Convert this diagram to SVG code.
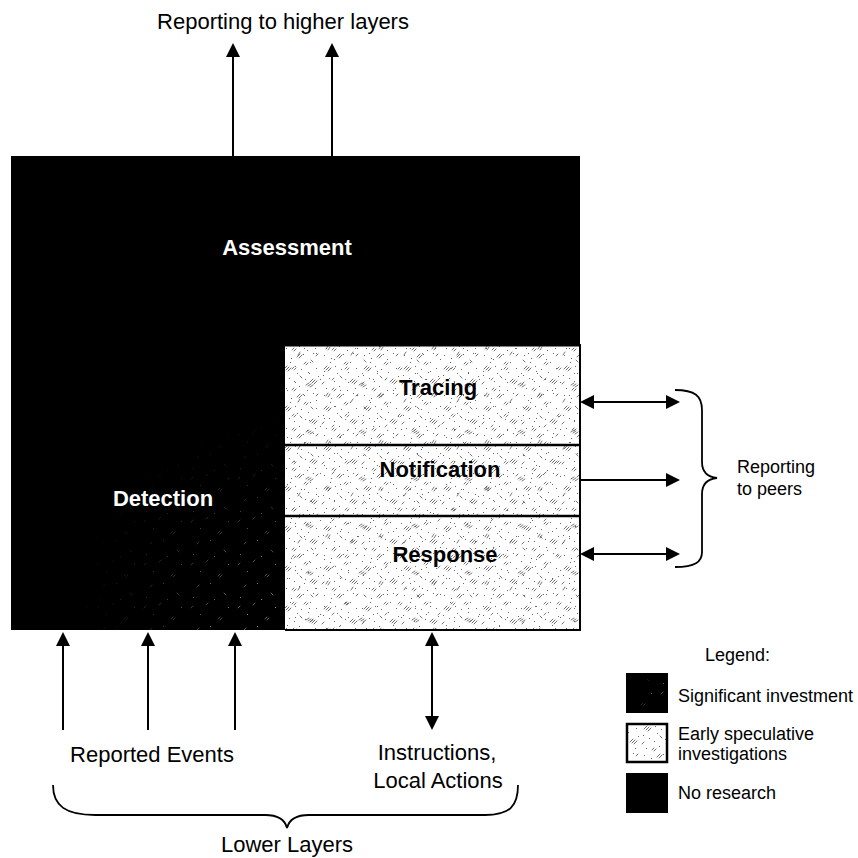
<svg xmlns="http://www.w3.org/2000/svg" width="858" height="858" viewBox="0 0 858 858">
  <style>
    text { font-family: "Liberation Sans", Arial, Helvetica, sans-serif; }
    .lbl { font-size: 22px; fill: #000; }
    .small { font-size: 18px; fill: #000; }
    .bold { font-size: 22px; font-weight: bold; }
    .white { fill: #fff; }
    .conn { stroke: #000; stroke-width: 2; fill: none; }
    .brace { stroke: #000; stroke-width: 1.8; fill: none; }
    .light { fill: url(#stippleA); }
    .light2 { fill: url(#stippleB); }
  </style>
  <defs>
    <!-- arrowhead shared by every connector -->
    <marker id="arrow" viewBox="0 0 14 14" markerWidth="14" markerHeight="14" refX="12" refY="7" orient="auto-start-reverse" markerUnits="userSpaceOnUse">
      <path d="M0,0 L14,7 L0,14 z" fill="#000"/>
    </marker>

    <!-- light grey stipple: "early speculative investigations" -->
    <pattern id="stippleA" width="40" height="40" patternUnits="userSpaceOnUse">
      <rect width="40" height="40" fill="#fff"/>
      <g stroke="#555" stroke-width="0.85" stroke-linecap="round" fill="none">
        <path d="M4,9 l3,-3 M6,10 l3,-3 M8,11 l3,-3 M24,4 l2,-2 M26,5 l2,-2 M30,22 l3,-3 M32,23 l3,-3 M34,24 l3,-3 M12,30 l2,-2 M14,31 l2,-2 M20,16 l2,2 M2,24 l2,-2 M36,36 l2,-2 M17,37 l3,-3 M19,38 l3,-3"/>
      </g>
      <g fill="#666">
        <rect x="10" y="2" width="1" height="1"/><rect x="15" y="6" width="1" height="1"/>
        <rect x="21" y="9" width="1" height="1"/><rect x="28" y="12" width="1" height="1"/>
        <rect x="36" y="8" width="1" height="1"/><rect x="3" y="15" width="1" height="1"/>
        <rect x="9" y="18" width="1" height="1"/><rect x="14" y="21" width="1" height="1"/>
        <rect x="25" y="19" width="1" height="1"/><rect x="38" y="16" width="1" height="1"/>
        <rect x="6" y="28" width="1" height="1"/><rect x="19" y="26" width="1" height="1"/>
        <rect x="27" y="30" width="1" height="1"/><rect x="33" y="33" width="1" height="1"/>
        <rect x="4" y="35" width="1" height="1"/><rect x="11" y="38" width="1" height="1"/>
        <rect x="23" y="34" width="1" height="1"/><rect x="30" y="2" width="1" height="1"/>
        <rect x="17" y="13" width="1" height="1"/><rect x="35" y="28" width="1" height="1"/>
      </g>
    </pattern>
    <pattern id="stippleB" width="53" height="47" patternUnits="userSpaceOnUse">
      <g stroke="#555" stroke-width="0.8" stroke-linecap="round" fill="none">
        <path d="M8,20 l2,-3 M10,21 l2,-3 M41,9 l3,-2 M43,10 l3,-2 M45,11 l3,-2 M27,40 l2,-2 M29,41 l2,-2 M48,33 l-2,-2 M14,4 l2,-2 M33,26 l2,-3"/>
      </g>
      <g fill="#666">
        <rect x="2" y="3" width="1" height="1"/><rect x="22" y="14" width="1" height="1"/>
        <rect x="39" y="19" width="1" height="1"/><rect x="51" y="24" width="1" height="1"/>
        <rect x="16" y="30" width="1" height="1"/><rect x="6" y="42" width="1" height="1"/>
        <rect x="44" y="44" width="1" height="1"/><rect x="30" y="6" width="1" height="1"/>
      </g>
    </pattern>

    <!-- sparse pale speckle over black: "significant investment" -->
    <pattern id="speckle" width="47" height="43" patternUnits="userSpaceOnUse">
      <g stroke="#aaa" stroke-width="0.8" stroke-linecap="round" fill="none">
        <path d="M3,6 l2,-2 M18,3 l2,-2 M30,17 l2,-2 M32,18 l2,-2 M9,28 l2,-2 M38,36 l-2,-2"/>
      </g>
      <g fill="#bbb">
        <rect x="12" y="12" width="1" height="1"/><rect x="40" y="5" width="1" height="1"/>
        <rect x="22" y="24" width="1" height="1"/><rect x="5" y="38" width="1" height="1"/>
        <rect x="26" y="40" width="1" height="1"/>
      </g>
    </pattern>
    <radialGradient id="fadeGrad" gradientUnits="userSpaceOnUse" cx="285" cy="620" r="210">
      <stop offset="0" stop-color="#fff" stop-opacity="0.9"/>
      <stop offset="0.5" stop-color="#fff" stop-opacity="0.4"/>
      <stop offset="1" stop-color="#fff" stop-opacity="0"/>
    </radialGradient>
    <mask id="detectFade" maskUnits="userSpaceOnUse" x="0" y="0" width="858" height="858">
      <rect x="11" y="345" width="274" height="285" fill="url(#fadeGrad)"/>
    </mask>
    <radialGradient id="legendGrad" gradientUnits="userSpaceOnUse" cx="666" cy="700" r="34">
      <stop offset="0" stop-color="#fff" stop-opacity="0.9"/>
      <stop offset="1" stop-color="#fff" stop-opacity="0"/>
    </radialGradient>
    <mask id="legendFade" maskUnits="userSpaceOnUse" x="0" y="0" width="858" height="858">
      <rect x="626" y="673" width="42" height="40" fill="url(#legendGrad)"/>
    </mask>
  </defs>

  <!-- title above -->
  <text class="lbl" x="283" y="29" text-anchor="middle">Reporting to higher layers</text>

  <g id="node-assessment">
    <rect x="11" y="156" width="569" height="190" fill="#000"/>
    <text class="bold white" x="287" y="255" text-anchor="middle">Assessment</text>
  </g>

  <g id="node-detection">
    <rect x="11" y="345" width="275" height="285" fill="#000"/>
    <rect x="11" y="345" width="274" height="285" fill="url(#speckle)" mask="url(#detectFade)"/>
    <text class="bold white" x="163" y="506" text-anchor="middle">Detection</text>
  </g>

  <g id="node-tracing">
    <rect x="285" y="345" width="295" height="100" class="light"/>
    <rect x="285" y="345" width="295" height="100" class="light2"/>
    <text class="bold" x="438" y="395" text-anchor="middle">Tracing</text>
  </g>

  <g id="node-notification">
    <rect x="285" y="445" width="295" height="71" class="light"/>
    <rect x="285" y="445" width="295" height="71" class="light2"/>
    <text class="bold" x="440" y="477" text-anchor="middle">Notification</text>
  </g>

  <g id="node-response">
    <rect x="285" y="516" width="295" height="114" class="light"/>
    <rect x="285" y="516" width="295" height="114" class="light2"/>
    <text class="bold" x="445" y="562" text-anchor="middle">Response</text>
  </g>

  <!-- outlines of the light blocks -->
  <g id="block-outlines" fill="none" stroke="#000">
    <path d="M285,345 H580 V630 H285" stroke-width="2"/>
    <path d="M285,345 H580" stroke-width="3"/>
    <path d="M285,445 H580 M285,516 H580" stroke-width="2.5"/>
  </g>

  <g id="connectors">
    <line class="conn" x1="233" y1="156" x2="233" y2="45" marker-end="url(#arrow)"/>
    <line class="conn" x1="332" y1="156" x2="332" y2="45" marker-end="url(#arrow)"/>

    <line class="conn" x1="63" y1="730" x2="63" y2="634" marker-end="url(#arrow)"/>
    <line class="conn" x1="148" y1="730" x2="148" y2="634" marker-end="url(#arrow)"/>
    <line class="conn" x1="235" y1="730" x2="235" y2="634" marker-end="url(#arrow)"/>
    <line class="conn" x1="432" y1="634" x2="432" y2="728" marker-start="url(#arrow)" marker-end="url(#arrow)"/>

    <line class="conn" x1="582" y1="402" x2="678" y2="402" marker-start="url(#arrow)" marker-end="url(#arrow)"/>
    <line class="conn" x1="580" y1="480" x2="678" y2="480" marker-end="url(#arrow)"/>
    <line class="conn" x1="582" y1="554" x2="678" y2="554" marker-start="url(#arrow)" marker-end="url(#arrow)"/>
  </g>

  <!-- braces -->
  <g id="brace-peers">
    <path class="brace" d="M675,390 C695,390 702,396 702,410 L702,462 C702,472 708,477 717,478 C708,479 702,484 702,494 L702,552 C702,562 695,567 675,567"/>
    <text class="small" x="737" y="473">Reporting</text>
    <text class="small" x="737" y="495">to peers</text>
  </g>

  <g id="brace-lower">
    <path class="brace" d="M53,785 C53,806 66,815 95,815 L265,815 C278,815 285,820 287,828 C289,820 296,815 309,815 L485,815 C510,815 518,806 518,785"/>
    <text class="lbl" x="287" y="852" text-anchor="middle">Lower Layers</text>
  </g>

  <g id="bottom-labels">
    <text class="lbl" x="152" y="762" text-anchor="middle">Reported Events</text>
    <text class="lbl" x="437" y="760" text-anchor="middle">Instructions,</text>
    <text class="lbl" x="438" y="788" text-anchor="middle">Local Actions</text>
  </g>

  <g id="legend">
    <text class="small" x="705" y="661">Legend:</text>
    <rect x="626" y="673" width="42" height="40" fill="#000"/>
    <rect x="626" y="673" width="42" height="40" fill="url(#speckle)" mask="url(#legendFade)"/>
    <text class="small" x="678" y="702">Significant investment</text>
    <rect x="627" y="724" width="40" height="38" class="light" stroke="#000" stroke-width="2.5"/>
    <text class="small" x="678" y="740">Early speculative</text>
    <text class="small" x="678" y="760">investigations</text>
    <rect x="626" y="773" width="42" height="40" fill="#000"/>
    <text class="small" x="678" y="799">No research</text>
  </g>
</svg>
